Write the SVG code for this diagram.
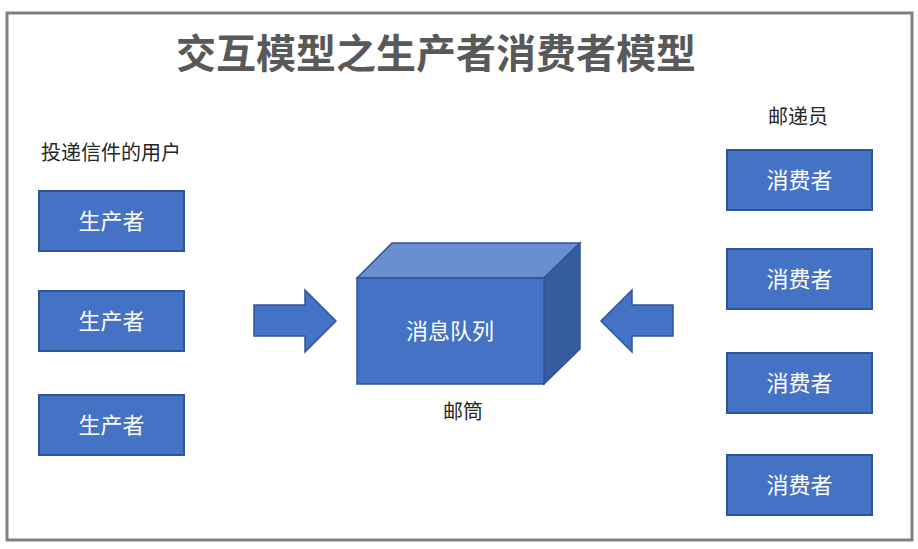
<svg xmlns="http://www.w3.org/2000/svg" width="918" height="549" viewBox="0 0 918 549">
<style>
.box{fill:#4472C4;stroke:#2F5597;stroke-width:2}
.bt{font-family:"Noto Sans CJK SC",sans-serif;font-size:22px;fill:#FFFFFF;text-anchor:middle;dominant-baseline:central}
.lbl{font-family:"Noto Sans CJK SC",sans-serif;font-size:20px;fill:#262626}
.arr{fill:#4472C4;stroke:#2F5597;stroke-width:1.5}
</style>
<rect x="0" y="0" width="918" height="549" fill="#FFFFFF"/>
<rect x="7" y="13" width="905" height="527" fill="none" stroke="#808080" stroke-width="3"/>
<text x="436" y="51" font-family="Noto Sans CJK SC,sans-serif" font-size="40" font-weight="bold" fill="#595959" text-anchor="middle" dominant-baseline="central">交互模型之生产者消费者模型</text>
<text class="lbl" x="41" y="160">投递信件的用户</text>
<text class="lbl" x="798" y="124" text-anchor="middle">邮递员</text>
<text class="lbl" x="463" y="419" text-anchor="middle">邮筒</text>
<g id="p1"><rect class="box" x="39" y="191" width="145" height="60"/><text class="bt" x="111.5" y="219">生产者</text></g>
<g id="p2"><rect class="box" x="39" y="291" width="145" height="60"/><text class="bt" x="111.5" y="319">生产者</text></g>
<g id="p3"><rect class="box" x="39" y="395" width="145" height="60"/><text class="bt" x="111.5" y="423">生产者</text></g>
<g id="c1"><rect class="box" x="727" y="150" width="145" height="60"/><text class="bt" x="799.5" y="178">消费者</text></g>
<g id="c2"><rect class="box" x="727" y="249" width="145" height="60"/><text class="bt" x="799.5" y="277">消费者</text></g>
<g id="c3"><rect class="box" x="727" y="353" width="145" height="60"/><text class="bt" x="799.5" y="381">消费者</text></g>
<g id="c4"><rect class="box" x="727" y="455" width="145" height="60"/><text class="bt" x="799.5" y="483">消费者</text></g>
<g id="queue">
<polygon points="357,278 392,243 580,243 544,278" fill="#6A8FD0" stroke="#2F5597" stroke-width="1.5"/>
<polygon points="544,278 580,243 580,349 544,384" fill="#345C9F" stroke="#2F5597" stroke-width="1.5"/>
<rect x="357" y="278" width="187" height="106" fill="#4472C4" stroke="#2F5597" stroke-width="1.5"/>
<text class="bt" x="450" y="329">消息队列</text>
</g>
<g id="connectors">
<polygon class="arr" points="254,305 305,305 305,290 336,321 305,352 305,336 254,336"/>
<polygon class="arr" points="673,305 632,305 632,290 601,321 632,352 632,336 673,336"/>
</g>
</svg>
